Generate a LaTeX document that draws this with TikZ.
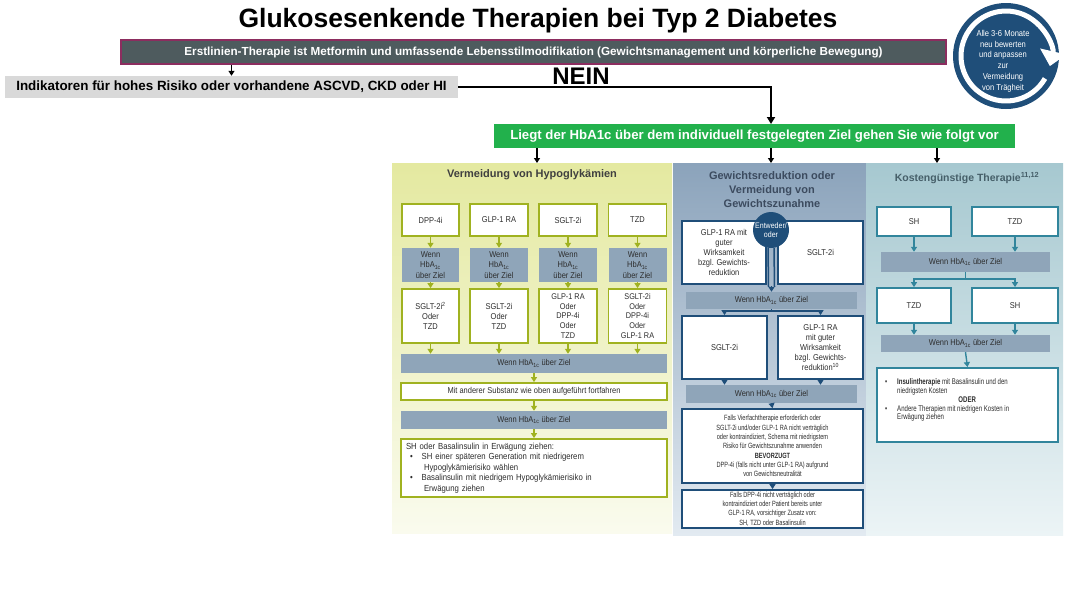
\documentclass[tikz,border=0pt]{standalone}
\usepackage{fontspec}
\setmainfont{Liberation Sans}
\newfontfamily\nar[FakeStretch=0.88]{Liberation Sans}
\newfontfamily\narr[FakeStretch=0.74]{Liberation Sans}
\usetikzlibrary{arrows.meta,calc}
\definecolor{cOlive}{RGB}{160,178,32}
\definecolor{cNavy}{RGB}{31,78,121}
\definecolor{cTeal}{RGB}{49,133,156}
\definecolor{cBar}{RGB}{143,165,185}
\definecolor{cTxt}{RGB}{45,45,45}
\definecolor{cHdr}{RGB}{78,91,94}
\definecolor{cMaroon}{RGB}{140,45,95}
\definecolor{cGreen}{RGB}{34,177,76}
\definecolor{cGrayBox}{RGB}{217,217,217}
\definecolor{cLtop}{RGB}{228,233,160}
\definecolor{cLbot}{RGB}{250,251,238}
\definecolor{cMtop}{RGB}{139,163,187}
\definecolor{cMbot}{RGB}{226,234,241}
\definecolor{cRtop}{RGB}{166,200,208}
\definecolor{cRbot}{RGB}{236,244,246}
\definecolor{cLtitle}{RGB}{64,64,64}
\definecolor{cMtitle}{RGB}{60,75,95}
\definecolor{cRtitle}{RGB}{70,95,105}
\newcommand{\myfs}[2]{\fontsize{#1}{#2}\selectfont}
\begin{document}
\begin{tikzpicture}[x=1pt,y=-1pt,
  obox/.style={draw=cOlive, line width=1.8pt, fill=white, align=center, inner sep=1pt, text=cTxt, font=\nar\myfs{8.5}{10}},
  nbox/.style={obox, draw=cNavy},
  tbox/.style={obox, draw=cTeal},
  gbar/.style={fill=cBar, align=center, inner sep=1pt, text=cTxt, font=\nar\myfs{8.5}{10.5}},
  oarr/.style={draw=cOlive, line width=1.4pt, -{Triangle[width=6pt,length=5pt]}},
  narr/.style={oarr, draw=cNavy},
  tarr/.style={oarr, draw=cTeal},
  karr/.style={draw=black, line width=1.2pt, -{Triangle[width=6pt,length=5pt]}},
  panel/.style={rectangle, inner sep=0pt, draw=none}]
\useasboundingbox (0,0) rectangle (1068,600);
\fill[white] (0,0) rectangle (1068,600);

% ---------- top ----------
\node[font=\bfseries\myfs{26.5}{30}] (title) at (538,21) {Glukosesenkende Therapien bei Typ 2 Diabetes};
\node[fill=cHdr, draw=cMaroon, line width=1.8pt, minimum width=825pt, minimum height=24pt, inner sep=0pt, text=white, font=\bfseries\myfs{11.7}{13}] (hdr) at (533.5,52) {Erstlinien-Therapie ist Metformin und umfassende Lebensstilmodifikation (Gewichtsmanagement und körperliche Bewegung)};
\node[fill=cGrayBox, minimum width=453pt, minimum height=22pt, inner sep=0pt, font=\bfseries\myfs{13.4}{15}] (ind) at (231.5,87) {Indikatoren für hohes Risiko oder vorhandene ASCVD, CKD oder HI};
\node[font=\bfseries\myfs{24}{26}] (nein) at (581,76) {NEIN};
\node[fill=cGreen, minimum width=521pt, minimum height=24pt, inner sep=0pt, text=white, font=\bfseries\myfs{13.2}{14}] (grn) at (754.5,136) {Liegt der HbA1c über dem individuell festgelegten Ziel gehen Sie wie folgt vor};
\draw[karr] (hdr.south -| ind.north) -- (ind.north);
\coordinate (gin) at (771,124);
\draw[line width=2pt, -{Triangle[width=8pt,length=7pt]}] (ind.east) -| (gin);

% cycle icon
\node[circle, fill=cNavy, minimum size=106pt, inner sep=0pt] (cyc) at (1006,56) {};
\draw[white, line width=5pt, -{Triangle[width=26pt,length=15pt]}] ($(cyc.center)+(30:45)$) arc[start angle=30, end angle=373, radius=45];
\node[align=center, text=white, font=\nar\myfs{8.6}{10.8}] (cyctxt) at (1003,61) {Alle 3-6 Monate\\neu bewerten\\und anpassen\\zur\\Vermeidung\\von Trägheit};

% ---------- panels ----------
\node[panel, top color=cLtop, bottom color=cLbot, minimum width=280pt, minimum height=370pt] (pl) at (532,348) {};
\node[panel, top color=cMtop, bottom color=cMbot, minimum width=193pt, minimum height=372pt] (pm) at (769.5,349) {};
\node[panel, top color=cRtop, bottom color=cRbot, minimum width=197pt, minimum height=372pt] (pr) at (964.5,349) {};
\coordinate (pa) at (537,163);
\coordinate (pb) at (771,163);
\coordinate (pc) at (937,163);
\draw[karr] (grn.south -| pa) -- (pa);
\draw[karr] (grn.south -| pb) -- (pb);
\draw[karr] (grn.south -| pc) -- (pc);

\node[font=\bfseries\myfs{11}{12}, text=cLtitle] (tl) at (532,175) {Vermeidung von Hypoglykämien};
\node[font=\bfseries\myfs{11}{14}, text=cMtitle, align=center] (tm) at (772,190) {Gewichtsreduktion oder\\Vermeidung von\\Gewichtszunahme};
\node[font=\bfseries\myfs{10.5}{12}, text=cRtitle] (tr) at (967,178) {Kostengünstige Therapie\textsuperscript{11,12}};

% ---------- left column ----------
\node[obox, minimum width=57pt, minimum height=32pt] (la1) at (430.5,220) {DPP-4i};
\node[obox, minimum width=58pt, minimum height=32pt] (la2) at (499,220) {GLP-1 RA};
\node[obox, minimum width=58pt, minimum height=32pt] (la3) at (568,220) {SGLT-2i};
\node[obox, minimum width=58pt, minimum height=32pt] (la4) at (637.5,220) {TZD};
\node[gbar, minimum width=57pt, minimum height=34pt] (lg1) at (430.5,265) {Wenn\\HbA\textsubscript{1c}\\über Ziel};
\node[gbar, minimum width=58pt, minimum height=34pt] (lg2) at (499,265) {Wenn\\HbA\textsubscript{1c}\\über Ziel};
\node[gbar, minimum width=58pt, minimum height=34pt] (lg3) at (568,265) {Wenn\\HbA\textsubscript{1c}\\über Ziel};
\node[gbar, minimum width=58pt, minimum height=34pt] (lg4) at (637.5,265) {Wenn\\HbA\textsubscript{1c}\\über Ziel};
\node[obox, minimum width=57pt, minimum height=54pt] (lc1) at (430.5,316) {SGLT-2i\textsuperscript{2}\\Oder\\TZD};
\node[obox, minimum width=58pt, minimum height=54pt] (lc2) at (499,316) {SGLT-2i\\Oder\\TZD};
\node[obox, minimum width=58pt, minimum height=54pt, font=\nar\myfs{8.3}{9.6}] (lc3) at (568,316) {GLP-1 RA\\Oder\\DPP-4i\\Oder\\TZD};
\node[obox, minimum width=58pt, minimum height=54pt, font=\nar\myfs{8.3}{9.6}] (lc4) at (637.5,316) {SGLT-2i\\Oder\\DPP-4i\\Oder\\GLP-1 RA};
\node[gbar, minimum width=266pt, minimum height=19pt] (lb1) at (534,363.5) {Wenn HbA\textsubscript{1c} über Ziel};
\node[obox, minimum width=266pt, minimum height=17pt] (lb2) at (534,391.5) {Mit anderer Substanz wie oben aufgeführt fortfahren};
\node[gbar, minimum width=266pt, minimum height=18pt] (lb3) at (534,420) {Wenn HbA\textsubscript{1c} über Ziel};
\node[obox, minimum width=266pt, minimum height=58pt, text width=256pt, align=left, font=\nar\myfs{8.8}{10.5}] (lb4) at (534,468) {SH oder Basalinsulin in Erwägung ziehen:\\
\hspace*{4pt}\textbullet\hspace{9pt}SH einer späteren Generation mit niedrigerem\\
\hspace*{18pt}Hypoglykämierisiko wählen\\
\hspace*{4pt}\textbullet\hspace{9pt}Basalinsulin mit niedrigem Hypoglykämierisiko in\\
\hspace*{18pt}Erwägung ziehen};
\foreach \i in {1,...,4} {
  \draw[oarr] (la\i.south) -- (lg\i.north);
  \draw[oarr] (lg\i.south) -- (lc\i.north);
  \draw[oarr] (lc\i.south) -- (lc\i.south |- lb1.north);
}
\draw[oarr] (lb1.south) -- (lb2.north);
\draw[oarr] (lb2.south) -- (lb3.north);
\draw[oarr] (lb3.south) -- (lb4.north);

% ---------- middle column ----------
\node[nbox, minimum width=84pt, minimum height=63pt] (m1a) at (724,252.5) {GLP-1 RA mit\\guter\\Wirksamkeit\\bzgl. Gewichts-\\reduktion};
\node[nbox, minimum width=85pt, minimum height=63pt] (m1b) at (820.5,252.5) {SGLT-2i};
\node[gbar, minimum width=171pt, minimum height=17pt] (mbar1) at (771.5,300.5) {Wenn HbA\textsubscript{1c} über Ziel};
\node[circle, fill=cNavy, minimum size=36pt, inner sep=0pt, text=white, align=center, font=\nar\myfs{8}{9.5}] (circ) at (771,230) {Entweder/\\oder};
\draw[cNavy, line width=1.5pt] ([xshift=-3pt]circ.south) -- ([xshift=-3pt,yshift=5pt]mbar1.north);
\draw[cNavy, line width=1.5pt] ([xshift=3pt]circ.south) -- ([xshift=3pt,yshift=5pt]mbar1.north);
\draw[narr] ([yshift=6pt]mbar1.north) -- (mbar1.north);
\node[nbox, minimum width=85pt, minimum height=63pt] (m2a) at (724.5,347.5) {SGLT-2i};
\node[nbox, minimum width=85pt, minimum height=63pt] (m2b) at (820.5,347.5) {GLP-1 RA\\mit guter\\Wirksamkeit\\bzgl. Gewichts-\\reduktion\textsuperscript{10}};
\coordinate (mj) at (771.5,311);
\draw[cNavy, line width=1.4pt] (mbar1.south) -- (mj);
\draw[narr] (mj) -| (m2a.north);
\draw[narr] (mj) -| (m2b.north);
\node[gbar, minimum width=171pt, minimum height=18pt] (mbar2) at (771.5,394) {Wenn HbA\textsubscript{1c} über Ziel};
\draw[narr] (m2a.south) -- (m2a.south |- mbar2.north);
\draw[narr] (m2b.south) -- (m2b.south |- mbar2.north);
\node[nbox, minimum width=181pt, minimum height=74pt, font=\narr\myfs{7.6}{9.3}] (m3) at (772.5,446) {Falls Vierfachtherapie erforderlich oder\\SGLT-2i und/oder GLP-1 RA nicht verträglich\\oder kontraindiziert, Schema mit niedrigstem\\Risiko für Gewichtszunahme anwenden\\{\bfseries BEVORZUGT}\\DPP-4i (falls nicht unter GLP-1 RA) aufgrund\\von Gewichtsneutralität};
\draw[narr] (mbar2.south) -- (m3.north);
\node[nbox, minimum width=181pt, minimum height=38pt, font=\narr\myfs{7.6}{9.3}] (m4) at (772.5,509) {Falls DPP-4i nicht verträglich oder\\kontraindiziert oder Patient bereits unter\\GLP-1 RA, vorsichtiger Zusatz von:\\SH, TZD oder Basalinsulin};
\draw[narr] (m3.south) -- (m4.north);

% ---------- right column ----------
\node[tbox, minimum width=74pt, minimum height=29pt] (r1a) at (914,221.5) {SH};
\node[tbox, minimum width=86pt, minimum height=29pt] (r1b) at (1015,221.5) {TZD};
\node[gbar, minimum width=169pt, minimum height=20pt] (rbar1) at (965.5,262) {Wenn HbA\textsubscript{1c} über Ziel};
\draw[tarr] (r1a.south) -- (r1a.south |- rbar1.north);
\draw[tarr] (r1b.south) -- (r1b.south |- rbar1.north);
\node[tbox, minimum width=74pt, minimum height=35pt] (r2a) at (914,305.5) {TZD};
\node[tbox, minimum width=86pt, minimum height=35pt] (r2b) at (1015,305.5) {SH};
\coordinate (rj) at (965.5,279);
\draw[cTeal, line width=1.4pt] (rbar1.south) -- (rj);
\draw[tarr] (rj) -| (r2a.north);
\draw[tarr] (rj) -| (r2b.north);
\node[gbar, minimum width=169pt, minimum height=17pt] (rbar2) at (965.5,343.5) {Wenn HbA\textsubscript{1c} über Ziel};
\draw[tarr] (r2a.south) -- (r2a.south |- rbar2.north);
\draw[tarr] (r2b.south) -- (r2b.south |- rbar2.north);
\node[tbox, minimum width=181pt, minimum height=74pt] (r3) at (967.5,405) {};
\draw[tarr] (rbar2.south) -- (r3.north);
\node[anchor=west, align=left, text=cTxt, font=\narr\myfs{8.2}{8.9}, inner sep=0pt] (r3t) at (883,400) {\makebox[14pt][l]{\hspace{2pt}\textbullet}{\bfseries Insulintherapie} mit Basalinsulin und den\\
\hspace*{14pt}niedrigsten Kosten\\
\makebox[168pt][c]{\bfseries ODER}\\
\makebox[14pt][l]{\hspace{2pt}\textbullet}Andere Therapien mit niedrigen Kosten in\\
\hspace*{14pt}Erwägung ziehen};
\end{tikzpicture}
\end{document}
